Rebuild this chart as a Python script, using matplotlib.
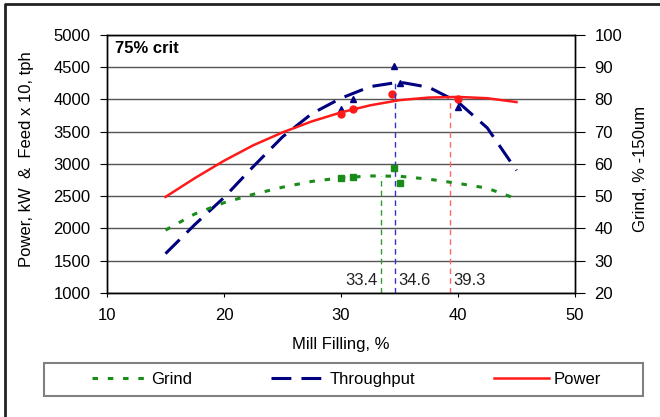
import matplotlib
matplotlib.use("Agg")
import matplotlib.pyplot as plt
from matplotlib.lines import Line2D
from matplotlib.patches import Rectangle

plt.rcParams['font.family'] = ['Liberation Sans', 'DejaVu Sans']
plt.rcParams['font.size'] = 12

# fitted curves
fill = [15, 17.5, 20, 22.5, 25, 27.5, 30, 32.5, 35, 37.5, 40, 42.5, 45]
power = [2490, 2780, 3050, 3290, 3490, 3660, 3800, 3910, 3990, 4030, 4040, 4020, 3960]
throughput = [1610, 2060, 2480, 2960, 3420, 3780, 4020, 4200, 4270, 4190, 3960, 3560, 2900]
grind = [39.5, 44.5, 48.0, 50.6, 52.8, 54.6, 55.7, 56.3, 56.2, 55.3, 54.0, 52.5, 49.2]

# measured points
power_x = [30, 31, 34.4, 40]
power_y = [3770, 3860, 4080, 4000]
tp_x = [30, 31, 34.5, 35, 40]
tp_y = [3850, 4000, 4520, 4260, 3880]
grind_x = [30, 31, 34.5, 35]
grind_y = [55.6, 55.9, 58.7, 54.0]

# optimum markers
peak_x = [33.4, 34.6, 39.3]
peak_top = [2810, 4270, 4040]   # in left-axis units
peak_lbl = ['33.4', '34.6', '39.3']

green = '#1a8c1a'
navy = '#000080'
red = '#ff1a1a'

fig = plt.figure(figsize=(6.6, 4.17), dpi=100)
ax = fig.add_axes([107/660, 1-293/417, 468/660, 258/417])
ax2 = ax.twinx()

ax.set_xlim(10, 50)
ax.set_ylim(1000, 5000)
ax2.set_ylim(20, 100)
ax.set_xticks([10, 20, 30, 40, 50])
ax.set_yticks(range(1000, 5001, 500))
ax2.set_yticks(range(20, 101, 10))
ax.yaxis.grid(True, color='#555555', lw=1)
ax.set_axisbelow(True)

for a in (ax, ax2):
    for s in a.spines.values():
        s.set_linewidth(1)
        s.set_color('black')
ax.tick_params(axis='y', direction='out', length=5, pad=7)
ax.tick_params(axis='x', direction='out', length=3, pad=8)
ax2.tick_params(axis='y', direction='out', length=7, pad=7)

ln_g, = ax2.plot(fill, grind, color=green, lw=2.2, dashes=(1.8, 3.2))
ax2.plot(grind_x, grind_y, 's', color=green, ms=5, ls='none')
ln_t, = ax.plot(fill, throughput, color=navy, lw=2.2, dashes=(6.5, 3.3))
ax.plot(tp_x, tp_y, '^', color=navy, ms=5, ls='none')
ln_p, = ax.plot(fill, power, color=red, lw=1.8)
ax.plot(power_x, power_y, 'o', color=red, ms=5, ls='none')

vcol = ['#339933', '#3333cc', '#ff6666']
for px, top, c in zip(peak_x, peak_top, vcol):
    ax.plot([px, px], [1000, top], color=c, lw=1, dashes=(4, 3))
ax.text(peak_x[0] - 0.3, 1200, peak_lbl[0], ha='right', va='center', color='#222222')
ax.text(peak_x[1] + 0.3, 1200, peak_lbl[1], ha='left', va='center', color='#222222')
ax.text(peak_x[2] + 0.3, 1200, peak_lbl[2], ha='left', va='center', color='#222222')

ax.text(0.017, 0.947, '75% crit', transform=ax.transAxes, fontweight='bold',
        ha='left', va='center')

ax.set_xlabel('Mill Filling, %')
ax.set_ylabel('Power, kW  &  Feed x 10, tph')
ax2.set_ylabel('Grind, % -150um')
ax.xaxis.label.set_va('center')
ax.yaxis.label.set_va('center')
ax2.yaxis.label.set_va('center')
ax.xaxis.set_label_coords(0.5, -0.2)
ax.yaxis.set_label_coords(-0.171, 0.52)
ax2.yaxis.set_label_coords(1.141, 0.48)

leg = fig.legend([ln_g, ln_t, ln_p], ['Grind', 'Throughput', 'Power'],
                 loc='center', ncol=3, frameon=False,
                 bbox_to_anchor=(346.5/660, 1-379.5/417),
                 handlelength=3.3, handletextpad=0.25, columnspacing=4.7,
                 borderpad=0, borderaxespad=0)
fig.add_artist(Rectangle((44/660, 1-396/417), 599/660, 33/417,
                         transform=fig.transFigure, fill=False,
                         edgecolor='#808080', lw=1.5))

# page frame (top and left edges)
fig.add_artist(Line2D([5/660, 5/660, 1], [0, 1-4/417, 1-4/417],
                      transform=fig.transFigure, color='#222222', lw=2))

fig.savefig('out.png', dpi=100)
